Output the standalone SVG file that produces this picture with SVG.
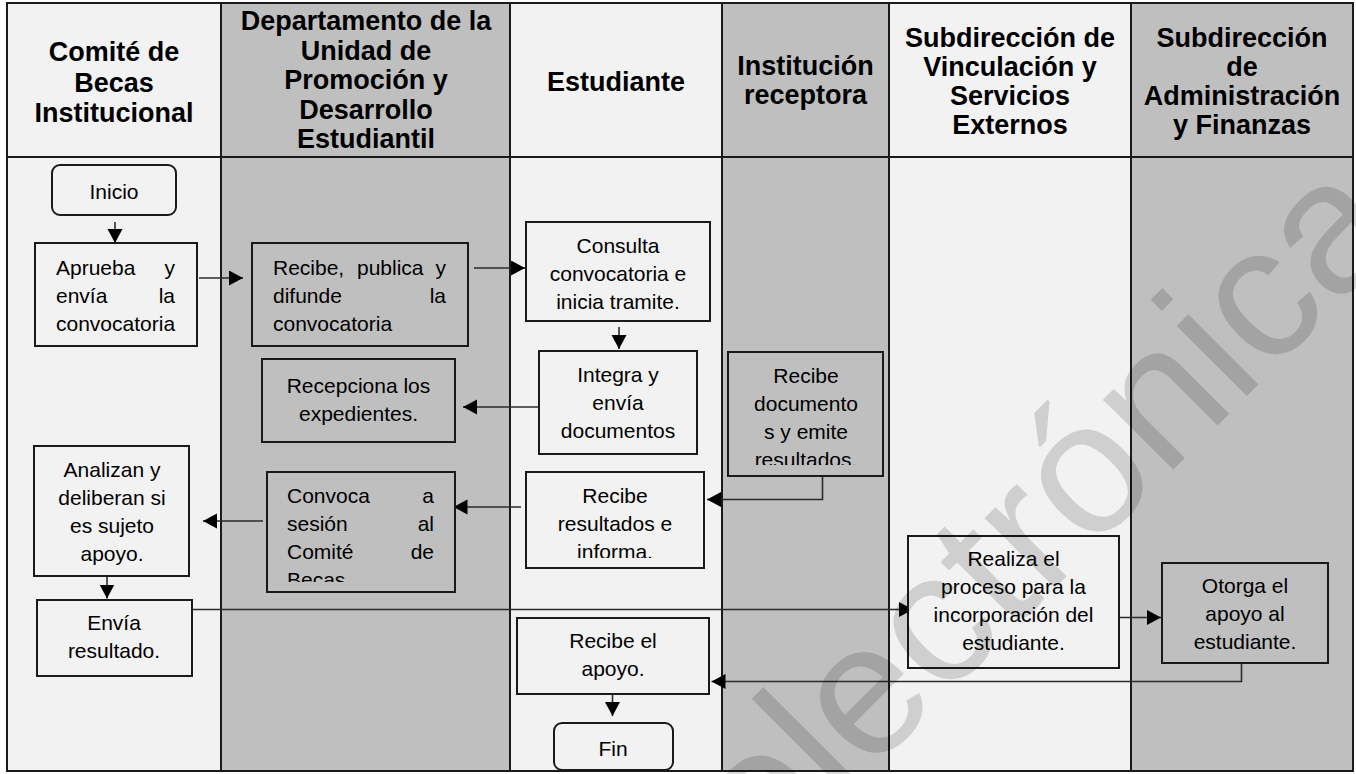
<svg xmlns="http://www.w3.org/2000/svg" width="1356" height="774" viewBox="0 0 1356 774">
<style>
text{font-family:'Liberation Sans',Arial,sans-serif;fill:#000}
.h{font-size:27px;font-weight:bold;text-anchor:middle}
.t{font-size:21px}
.c{text-anchor:middle}
.e{text-anchor:end}
.lt{fill:#f2f2f2}
.dk{fill:#bfbfbf}
.box{stroke:#1a1a1a;stroke-width:2}
.ln{fill:none;stroke:#1a1a1a;stroke-width:2}
.cn{fill:none;stroke:#2b2b2b;stroke-width:1.6}
.wm{font-size:188px;fill:#000;fill-opacity:0.145}
</style>
<defs>
<marker id="ah" markerUnits="userSpaceOnUse" markerWidth="16" markerHeight="16" refX="14" refY="7.5" orient="auto">
<path d="M0,0 L14,7.5 L0,15 Z" fill="#000"/>
</marker>
<clipPath id="cpDoc"><rect x="729" y="352" width="154" height="113"/></clipPath>
<clipPath id="cpRes"><rect x="527" y="472" width="176" height="86"/></clipPath>
<clipPath id="cpConv"><rect x="267" y="472" width="188" height="110"/></clipPath>
</defs>

<g id="lanes">
<rect class="lt" x="7" y="3" width="214" height="768"/>
<rect class="dk" x="221" y="3" width="289" height="768"/>
<rect class="lt" x="510" y="3" width="212" height="768"/>
<rect class="dk" x="722" y="3" width="167" height="768"/>
<rect class="lt" x="889" y="3" width="242" height="768"/>
<rect class="dk" x="1131" y="3" width="222" height="768"/>
<path class="ln" d="M7,157 H1353 M221,3 V771 M510,3 V771 M722,3 V771 M889,3 V771 M1131,3 V771"/>
<rect class="ln" x="7" y="3" width="1346" height="768"/>
</g>

<g id="headers">
<text class="h" x="114" y="61">Comité de</text>
<text class="h" x="114" y="91.5">Becas</text>
<text class="h" x="114" y="122">Institucional</text>
<text class="h" x="366" y="30">Departamento de la</text>
<text class="h" x="366" y="59.5">Unidad de</text>
<text class="h" x="366" y="89">Promoción y</text>
<text class="h" x="366" y="118.5">Desarrollo</text>
<text class="h" x="366" y="148">Estudiantil</text>
<text class="h" x="616" y="91">Estudiante</text>
<text class="h" x="805.5" y="75">Institución</text>
<text class="h" x="805.5" y="104">receptora</text>
<text class="h" x="1010" y="47">Subdirección de</text>
<text class="h" x="1010" y="76">Vinculación y</text>
<text class="h" x="1010" y="105">Servicios</text>
<text class="h" x="1010" y="134">Externos</text>
<text class="h" x="1242" y="47">Subdirección</text>
<text class="h" x="1242" y="76">de</text>
<text class="h" x="1242" y="105">Administración</text>
<text class="h" x="1242" y="134">y Finanzas</text>
</g>

<g id="connectors">
<path class="cn" marker-end="url(#ah)" d="M115,222 V243"/>
<path class="cn" marker-end="url(#ah)" d="M199,278 H243"/>
<path class="cn" marker-end="url(#ah)" d="M474,268 H525"/>
<path class="cn" marker-end="url(#ah)" d="M619,327 V349"/>
<path class="cn" marker-end="url(#ah)" d="M538,407 H463"/>
<path class="cn" marker-end="url(#ah)" d="M822.5,476 V499.5 H707"/>
<path class="cn" marker-end="url(#ah)" d="M521,507 H453.5"/>
<path class="cn" marker-end="url(#ah)" d="M263,521 H203"/>
<path class="cn" marker-end="url(#ah)" d="M107,576 V598.5"/>
<path class="cn" marker-end="url(#ah)" d="M192,609.5 H913"/>
<path class="cn" marker-end="url(#ah)" d="M1117,617.5 H1161"/>
<path class="cn" marker-end="url(#ah)" d="M1241.5,663.5 V681.5 H711.5"/>
<path class="cn" marker-end="url(#ah)" d="M612.5,694.5 V716"/>
</g>

<g id="inicio">
<rect class="box lt" x="52" y="165" width="124" height="50" rx="8"/>
<text class="t c" x="114" y="199">Inicio</text>
</g>

<g id="aprueba">
<rect class="box lt" x="35" y="243" width="162" height="103"/>
<text class="t" x="56" y="275">Aprueba</text><text class="t e" x="175" y="275">y</text>
<text class="t" x="56" y="303">envía</text><text class="t e" x="175" y="303">la</text>
<text class="t" x="56" y="331">convocatoria</text>
</g>

<g id="recibe-publica">
<rect class="box dk" x="252" y="243" width="216" height="103"/>
<text class="t" x="273" y="275">Recibe,</text><text class="t" x="357" y="275">publica</text><text class="t e" x="446" y="275">y</text>
<text class="t" x="273" y="303">difunde</text><text class="t e" x="446" y="303">la</text>
<text class="t" x="273" y="331">convocatoria</text>
</g>

<g id="recepciona">
<rect class="box dk" x="262" y="359" width="193" height="83"/>
<text class="t c" x="358.5" y="393">Recepciona los</text>
<text class="t c" x="358.5" y="421">expedientes.</text>
</g>

<g id="convoca">
<rect class="box dk" x="267" y="472" width="188" height="120"/>
<g clip-path="url(#cpConv)">
<text class="t" x="287" y="503">Convoca</text><text class="t e" x="434" y="503">a</text>
<text class="t" x="287" y="531">sesión</text><text class="t e" x="434" y="531">al</text>
<text class="t" x="287" y="559">Comité</text><text class="t e" x="434" y="559">de</text>
<text class="t" x="287" y="587">Becas</text>
</g>
</g>

<g id="consulta">
<rect class="box lt" x="526" y="222" width="184" height="99"/>
<text class="t c" x="618" y="253">Consulta</text>
<text class="t c" x="618" y="281">convocatoria e</text>
<text class="t c" x="618" y="309">inicia tramite.</text>
</g>

<g id="integra">
<rect class="box lt" x="539" y="351" width="158" height="103"/>
<text class="t c" x="618" y="382">Integra y</text>
<text class="t c" x="618" y="410">envía</text>
<text class="t c" x="618" y="438">documentos</text>
</g>

<g id="recibe-documentos">
<rect class="box dk" x="728" y="352" width="155" height="124"/>
<g clip-path="url(#cpDoc)">
<text class="t c" x="806" y="383">Recibe</text>
<text class="t c" x="806" y="411">documento</text>
<text class="t c" x="806" y="439">s y emite</text>
<text class="t c" x="806" y="467">resultados.</text>
</g>
</g>

<g id="recibe-resultados">
<rect class="box lt" x="526" y="472" width="178" height="96"/>
<g clip-path="url(#cpRes)">
<text class="t c" x="615" y="503">Recibe</text>
<text class="t c" x="615" y="531">resultados e</text>
<text class="t c" x="615" y="559">informa.</text>
</g>
</g>

<g id="analizan">
<rect class="box lt" x="34" y="446" width="155" height="130"/>
<text class="t c" x="112" y="477">Analizan y</text>
<text class="t c" x="112" y="505">deliberan si</text>
<text class="t c" x="112" y="533">es sujeto</text>
<text class="t c" x="112" y="561">apoyo.</text>
</g>

<g id="envia">
<rect class="box lt" x="37" y="600" width="155" height="76"/>
<text class="t c" x="114" y="630">Envía</text>
<text class="t c" x="114" y="658">resultado.</text>
</g>

<g id="realiza">
<rect class="box lt" x="908" y="536" width="211" height="132"/>
<text class="t c" x="1013.5" y="566">Realiza el</text>
<text class="t c" x="1013.5" y="594">proceso para la</text>
<text class="t c" x="1013.5" y="622">incorporación del</text>
<text class="t c" x="1013.5" y="650">estudiante.</text>
</g>

<g id="otorga">
<rect class="box dk" x="1162" y="563" width="166" height="100"/>
<text class="t c" x="1245" y="593">Otorga el</text>
<text class="t c" x="1245" y="621">apoyo al</text>
<text class="t c" x="1245" y="649">estudiante.</text>
</g>

<g id="recibe-apoyo">
<rect class="box lt" x="517" y="618" width="192" height="76"/>
<text class="t c" x="613" y="648">Recibe el</text>
<text class="t c" x="613" y="676">apoyo.</text>
</g>

<g id="fin">
<rect class="box lt" x="554" y="723" width="119" height="47" rx="8"/>
<text class="t c" x="613" y="756">Fin</text>
</g>

<text class="wm" transform="translate(765,878) rotate(-45)">electrónica</text>
</svg>
